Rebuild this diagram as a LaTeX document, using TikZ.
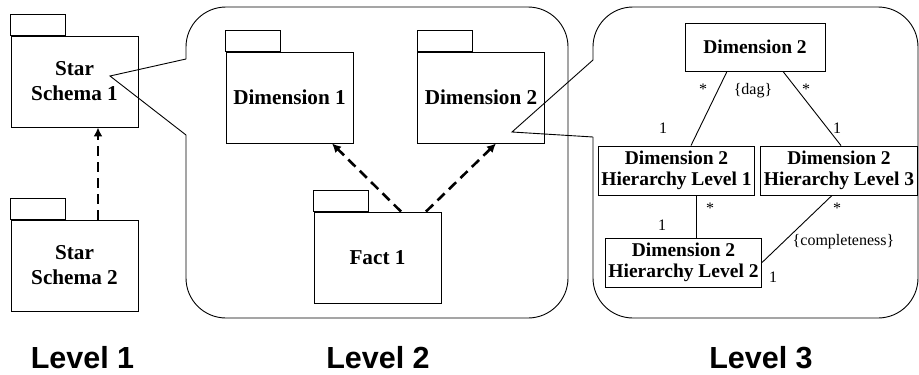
\documentclass[tikz,border=0pt]{standalone}
\usepackage{fontspec}
\setmainfont{Liberation Serif}
\newfontfamily\levelfont{Liberation Sans}
\usetikzlibrary{calc,arrows.meta}
\newcommand*\pkgfont{\bfseries\fontsize{21.2}{25}\selectfont}
\newcommand*\clsfont{\bfseries\fontsize{19.5}{21}\selectfont}
\newcommand*\multfont{\fontsize{16}{16}\selectfont}
\newcommand*\umlPackage[3]{%
    \node[uml/package] (#1) at (#2) {#3};
    \draw (#1.north west) rectangle ++(55,-21);
}
\tikzset{uml/.cd,
         package/.style={draw,rectangle,minimum width=127pt,minimum height=91pt,
                         inner sep=0pt,align=center,font=\pkgfont},
         class/.style={draw,rectangle,minimum height=49pt,inner xsep=3pt,
                       inner ysep=0pt,align=center,font=\clsfont},
         mult/.style={inner sep=0pt,font=\multfont},
         depends/.style={line width=2.6pt,dash pattern=on 10pt off 6pt,
                         -{Latex[length=9pt,width=9pt]}},
         level/.style={font=\levelfont\bfseries\fontsize{30.5}{30}\selectfont}}

\begin{document}
\begin{tikzpicture}[x=1pt,y=-1pt,line width=0.9pt]
\useasboundingbox (0,0) rectangle (919,375);
% level 1
\umlPackage{ss1}{74.5,81.5}{Star\\Schema 1}
\umlPackage{ss2}{74.5,265.5}{Star\\Schema 2}
\draw[uml/depends] ($(ss2.north)+(23.5,0)$) -- ($(ss1.south)+(23.5,0)$);
% level 2
\umlPackage{dim1}{289.5,97.5}{Dimension 1}
\umlPackage{dim2}{481,97.5}{Dimension 2}
\umlPackage{fact1}{377.5,257.5}{Fact 1}
\draw[uml/depends] ($(fact1.north)+(23.5,0)$) -- ($(dim1.south)+(42.5,0)$);
\draw[uml/depends] ($(fact1.north)+(48.5,0)$) -- ($(dim2.south)+(15,0)$);
\coordinate (ss1tip) at (110,76);
\draw[rounded corners=40pt] (186,59) coordinate (b2up) |- (568,7) |- (186,318)
     -- (186,135) coordinate (b2low);
\draw (b2low) -- (ss1tip) -- (b2up);
% level 3
\node[uml/class,minimum width=140pt,minimum height=48pt] (dim2top) at (755,47) {Dimension 2};
\node[uml/class] (hl1) at (676.5,170.5) {Dimension 2\\Hierarchy Level 1};
\node[uml/class] (hl3) at (839,170.5) {Dimension 2\\Hierarchy Level 3};
\node[uml/class] (hl2) at (683.5,262.5) {Dimension 2\\Hierarchy Level 2};
\draw ($(dim2top.south)+(-28,0)$) -- ($(hl1.north)+(14.5,0)$);
\draw ($(dim2top.south)+(28,0)$) -- ($(hl3.north)+(2,0)$);
\draw ($(hl1.south)+(19.5,0)$) -- ($(hl2.north)+(12.5,0)$);
\draw ($(hl3.south)+(-7,0)$) -- (hl2.east);
\node[uml/mult] (m1) at (703,89) {*};
\node[uml/mult] (dag) at (753,91) {\{dag\}};
\node[uml/mult] (m2) at (806,89) {*};
\node[uml/mult] (o1) at (663,128) {1};
\node[uml/mult] (o2) at (837,128) {1};
\node[uml/mult] (m3) at (710,208) {*};
\node[uml/mult] (o3) at (662,225) {1};
\node[uml/mult] (m4) at (837,208) {*};
\node[uml/mult] (compl) at (843.5,242) {\{completeness\}};
\node[uml/mult] (o4) at (773,277) {1};
\coordinate (dim2tip) at (512,132);
\draw[rounded corners=40pt] (593,60) coordinate (b3up) |- (918,7) |- (593,318)
     -- (593,137) coordinate (b3low);
\draw (b3low) -- (dim2tip) -- (b3up);
% captions
\node[uml/level] (lab1) at (82.5,358) {Level 1};
\node[uml/level] (lab2) at (378,358) {Level 2};
\node[uml/level] (lab3) at (761,358) {Level 3};
\end{tikzpicture}
\end{document}
